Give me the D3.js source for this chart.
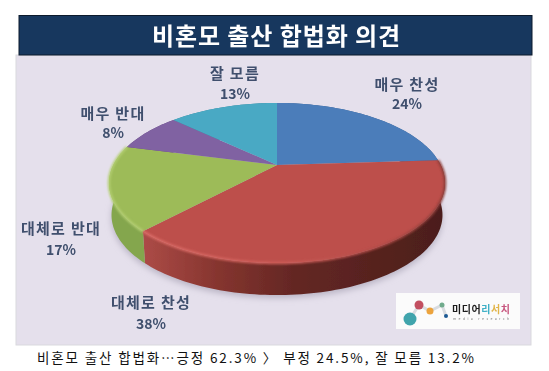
<!DOCTYPE html>
<html>
<head>
<meta charset="utf-8">
<script src="https://cdn.jsdelivr.net/npm/d3@7"></script>
<style>
  html, body { margin: 0; padding: 0; background: #fff; }
  svg { display: block; }
  text { font-family: "Noto Sans CJK KR", sans-serif; }
</style>
</head>
<body>
<div id="chart"></div>
<script>
// data
var categories = ['매우 찬성', '대체로 찬성', '대체로 반대', '매우 반대', '잘 모름'];
var values = [24, 38, 17, 8, 13];
var colors = ['#4c7dba', '#bd4f4c', '#9dbb59', '#8062a2', '#4aa9c4'];
var wallColors = ['#3b6290', 'url(#redWall)', '#84a64e', '#644c80', '#3a8499'];
var rimColors = ['none', 'url(#redRim)', '#b4cf72', 'none', 'none'];
var titleText = '비혼모 출산 합법화 의견';
var captionText = '비혼모 출산 합법화…긍정 62.3% 〉 부정 24.5%, 잘 모름 13.2%';
var logoName = [['미디어', '#1c1c1c'], ['리', '#3fb0c6'], ['서', '#e2b54a'], ['치', '#c8577f']];
var logoDots = [
    { x: 410, y: 319, r: 6.5, c: '#3fa4ac' },
    { x: 419, y: 305, r: 4.5, c: '#c24f60' },
    { x: 430, y: 311, r: 3.5, c: '#eca33c' },
    { x: 442, y: 305, r: 2.5, c: '#6fab8c' },
    { x: 446, y: 316, r: 2, c: '#1d5a94' }
];

// label placement, same order as categories: centre x, baseline of name, baseline of percent
var labelPos = [[407, 90, 109], [151, 308, 329], [61, 234, 255], [113, 119, 138], [235, 79, 99]];

var width = 549, height = 371;

// disc seen in perspective: far side is squeezed, apex sits above the ellipse centre
var cx = 277, cy = 165, a = 163.7, b = 76, k = 0.225, depth = 32;

function project(theta, dy, taper) {
    var u = Math.sin(theta), v = Math.cos(theta), w = 1 + k * v;
    return [cx + (taper || 1) * a * u / w, cy - b * v / w + (dy || 0)];
}

function rimPoints(s, dy, taper) {
    var n = Math.max(8, Math.round((s.endAngle - s.startAngle) * 40));
    return d3.range(n + 1).map(function (i) {
        return project(s.startAngle + (s.endAngle - s.startAngle) * i / n, dy, taper);
    });
}

var line = d3.line();

var svg = d3.select('#chart').append('svg')
    .attr('width', width)
    .attr('height', height);

var defs = svg.append('defs');
defs.append('filter').attr('id', 'soft').append('feGaussianBlur').attr('stdDeviation', 0.45);
defs.append('filter').attr('id', 'softer').append('feGaussianBlur').attr('stdDeviation', 1.1);
defs.append('filter').attr('id', 'shadow')
    .attr('x', '-20%').attr('y', '-20%').attr('width', '140%').attr('height', '140%')
    .append('feGaussianBlur').attr('stdDeviation', 3);

function xGradient(id, stops) {
    var g = defs.append('linearGradient').attr('id', id)
        .attr('gradientUnits', 'userSpaceOnUse')
        .attr('x1', 140).attr('x2', 446).attr('y1', 0).attr('y2', 0);
    stops.forEach(function (s) {
        g.append('stop').attr('offset', s[0]).attr('stop-color', s[1]);
    });
}
xGradient('redWall', [[0, '#ae4c48'], [0.25, '#86352f'], [0.5, '#642724'], [1, '#4b1e1a']]);
xGradient('redRim', [[0, '#dc6c67'], [0.45, '#cf5f5a'], [0.8, '#ae4a46'], [1, '#8a3c38']]);

// panel and header
svg.append('rect').attr('x', 16).attr('y', 55).attr('width', 515).attr('height', 290)
    .attr('fill', '#e5e0ec').attr('stroke', '#d9d9de').attr('stroke-width', 1);
svg.append('rect').attr('x', 19).attr('y', 15.5).attr('width', 513).attr('height', 39.5)
    .attr('fill', '#17375e').attr('stroke', '#0c1a2c').attr('stroke-width', 1);

svg.append('text')
    .attr('x', 276.5).attr('y', 45)
    .attr('text-anchor', 'middle')
    .attr('fill', '#fff')
    .attr('font-size', 24)
    .attr('font-weight', 700)
    .attr('letter-spacing', 0.9)
    .attr('filter', 'url(#soft)')
    .text(titleText);

var pie = d3.pie().sort(null).value(function (d) { return d; });
var slices = pie(values);
var whole = { startAngle: 0, endAngle: 2 * Math.PI };

var chart = svg.append('g');

// soft shadow under the disc
chart.append('path')
    .attr('d', line(rimPoints(whole, depth + 3, 0.985)) + 'Z')
    .attr('fill', '#b9b4c4')
    .attr('filter', 'url(#shadow)');

var body = chart.append('g').attr('filter', 'url(#soft)');

// side wall
body.selectAll('path.wall').data(slices).join('path')
    .attr('class', 'wall')
    .attr('fill', function (d, i) { return wallColors[i]; })
    .attr('d', function (d) {
        return line(rimPoints(d, 0).concat(rimPoints(d, depth, 0.985).reverse())) + 'Z';
    });

// top surface
body.selectAll('path.top').data(slices).join('path')
    .attr('class', 'top')
    .attr('fill', function (d, i) { return colors[i]; })
    .attr('d', function (d) {
        return line([[cx, cy]].concat(rimPoints(d, 0))) + 'Z';
    });

// light bevel along the front rim
chart.selectAll('path.rim').data(slices).join('path')
    .attr('class', 'rim')
    .attr('fill', 'none')
    .attr('stroke-width', 2.5)
    .attr('stroke', function (d, i) { return rimColors[i]; })
    .attr('filter', 'url(#softer)')
    .attr('d', function (d) { return line(rimPoints(d, 0)); });

// labels
var labels = svg.append('g')
    .attr('fill', '#3f4f6d')
    .attr('font-weight', 700)
    .attr('text-anchor', 'middle')
    .attr('filter', 'url(#soft)');

labels.selectAll('text.name').data(categories).join('text')
    .attr('class', 'name')
    .attr('x', function (d, i) { return labelPos[i][0]; })
    .attr('y', function (d, i) { return labelPos[i][1]; })
    .attr('font-size', 15)
    .attr('letter-spacing', 1.3)
    .text(function (d) { return d; });

labels.selectAll('text.pct').data(values).join('text')
    .attr('class', 'pct')
    .attr('x', function (d, i) { return labelPos[i][0]; })
    .attr('y', function (d, i) { return labelPos[i][2]; })
    .attr('font-size', 14)
    .text(function (d) { return d + '%'; });

// logo box
var logo = svg.append('g').attr('filter', 'url(#soft)');
logo.append('rect').attr('x', 396).attr('y', 293).attr('width', 124).attr('height', 36).attr('fill', '#fbfbfb');
logo.append('path')
    .attr('d', d3.line()(logoDots.map(function (d) { return [d.x, d.y]; })))
    .attr('fill', 'none')
    .attr('stroke', '#d9dce0')
    .attr('stroke-width', 3);
logo.selectAll('circle').data(logoDots).join('circle')
    .attr('cx', function (d) { return d.x; })
    .attr('cy', function (d) { return d.y; })
    .attr('r', function (d) { return d.r; })
    .attr('fill', function (d) { return d.c; });
logo.append('text')
    .attr('x', 452).attr('y', 313)
    .attr('font-size', 10)
    .attr('font-weight', 700)
    .attr('textLength', 58)
    .selectAll('tspan').data(logoName).join('tspan')
    .attr('fill', function (d) { return d[1]; })
    .text(function (d) { return d[0]; });
logo.append('text')
    .attr('x', 453).attr('y', 319.5)
    .attr('font-size', 3.5)
    .attr('textLength', 56)
    .attr('fill', '#777')
    .text('media research');

// caption
svg.append('text')
    .attr('x', 37).attr('y', 363)
    .attr('font-size', 13.5)
    .attr('textLength', 437)
    .attr('fill', '#111')
    .text(captionText);
</script>
</body>
</html>
